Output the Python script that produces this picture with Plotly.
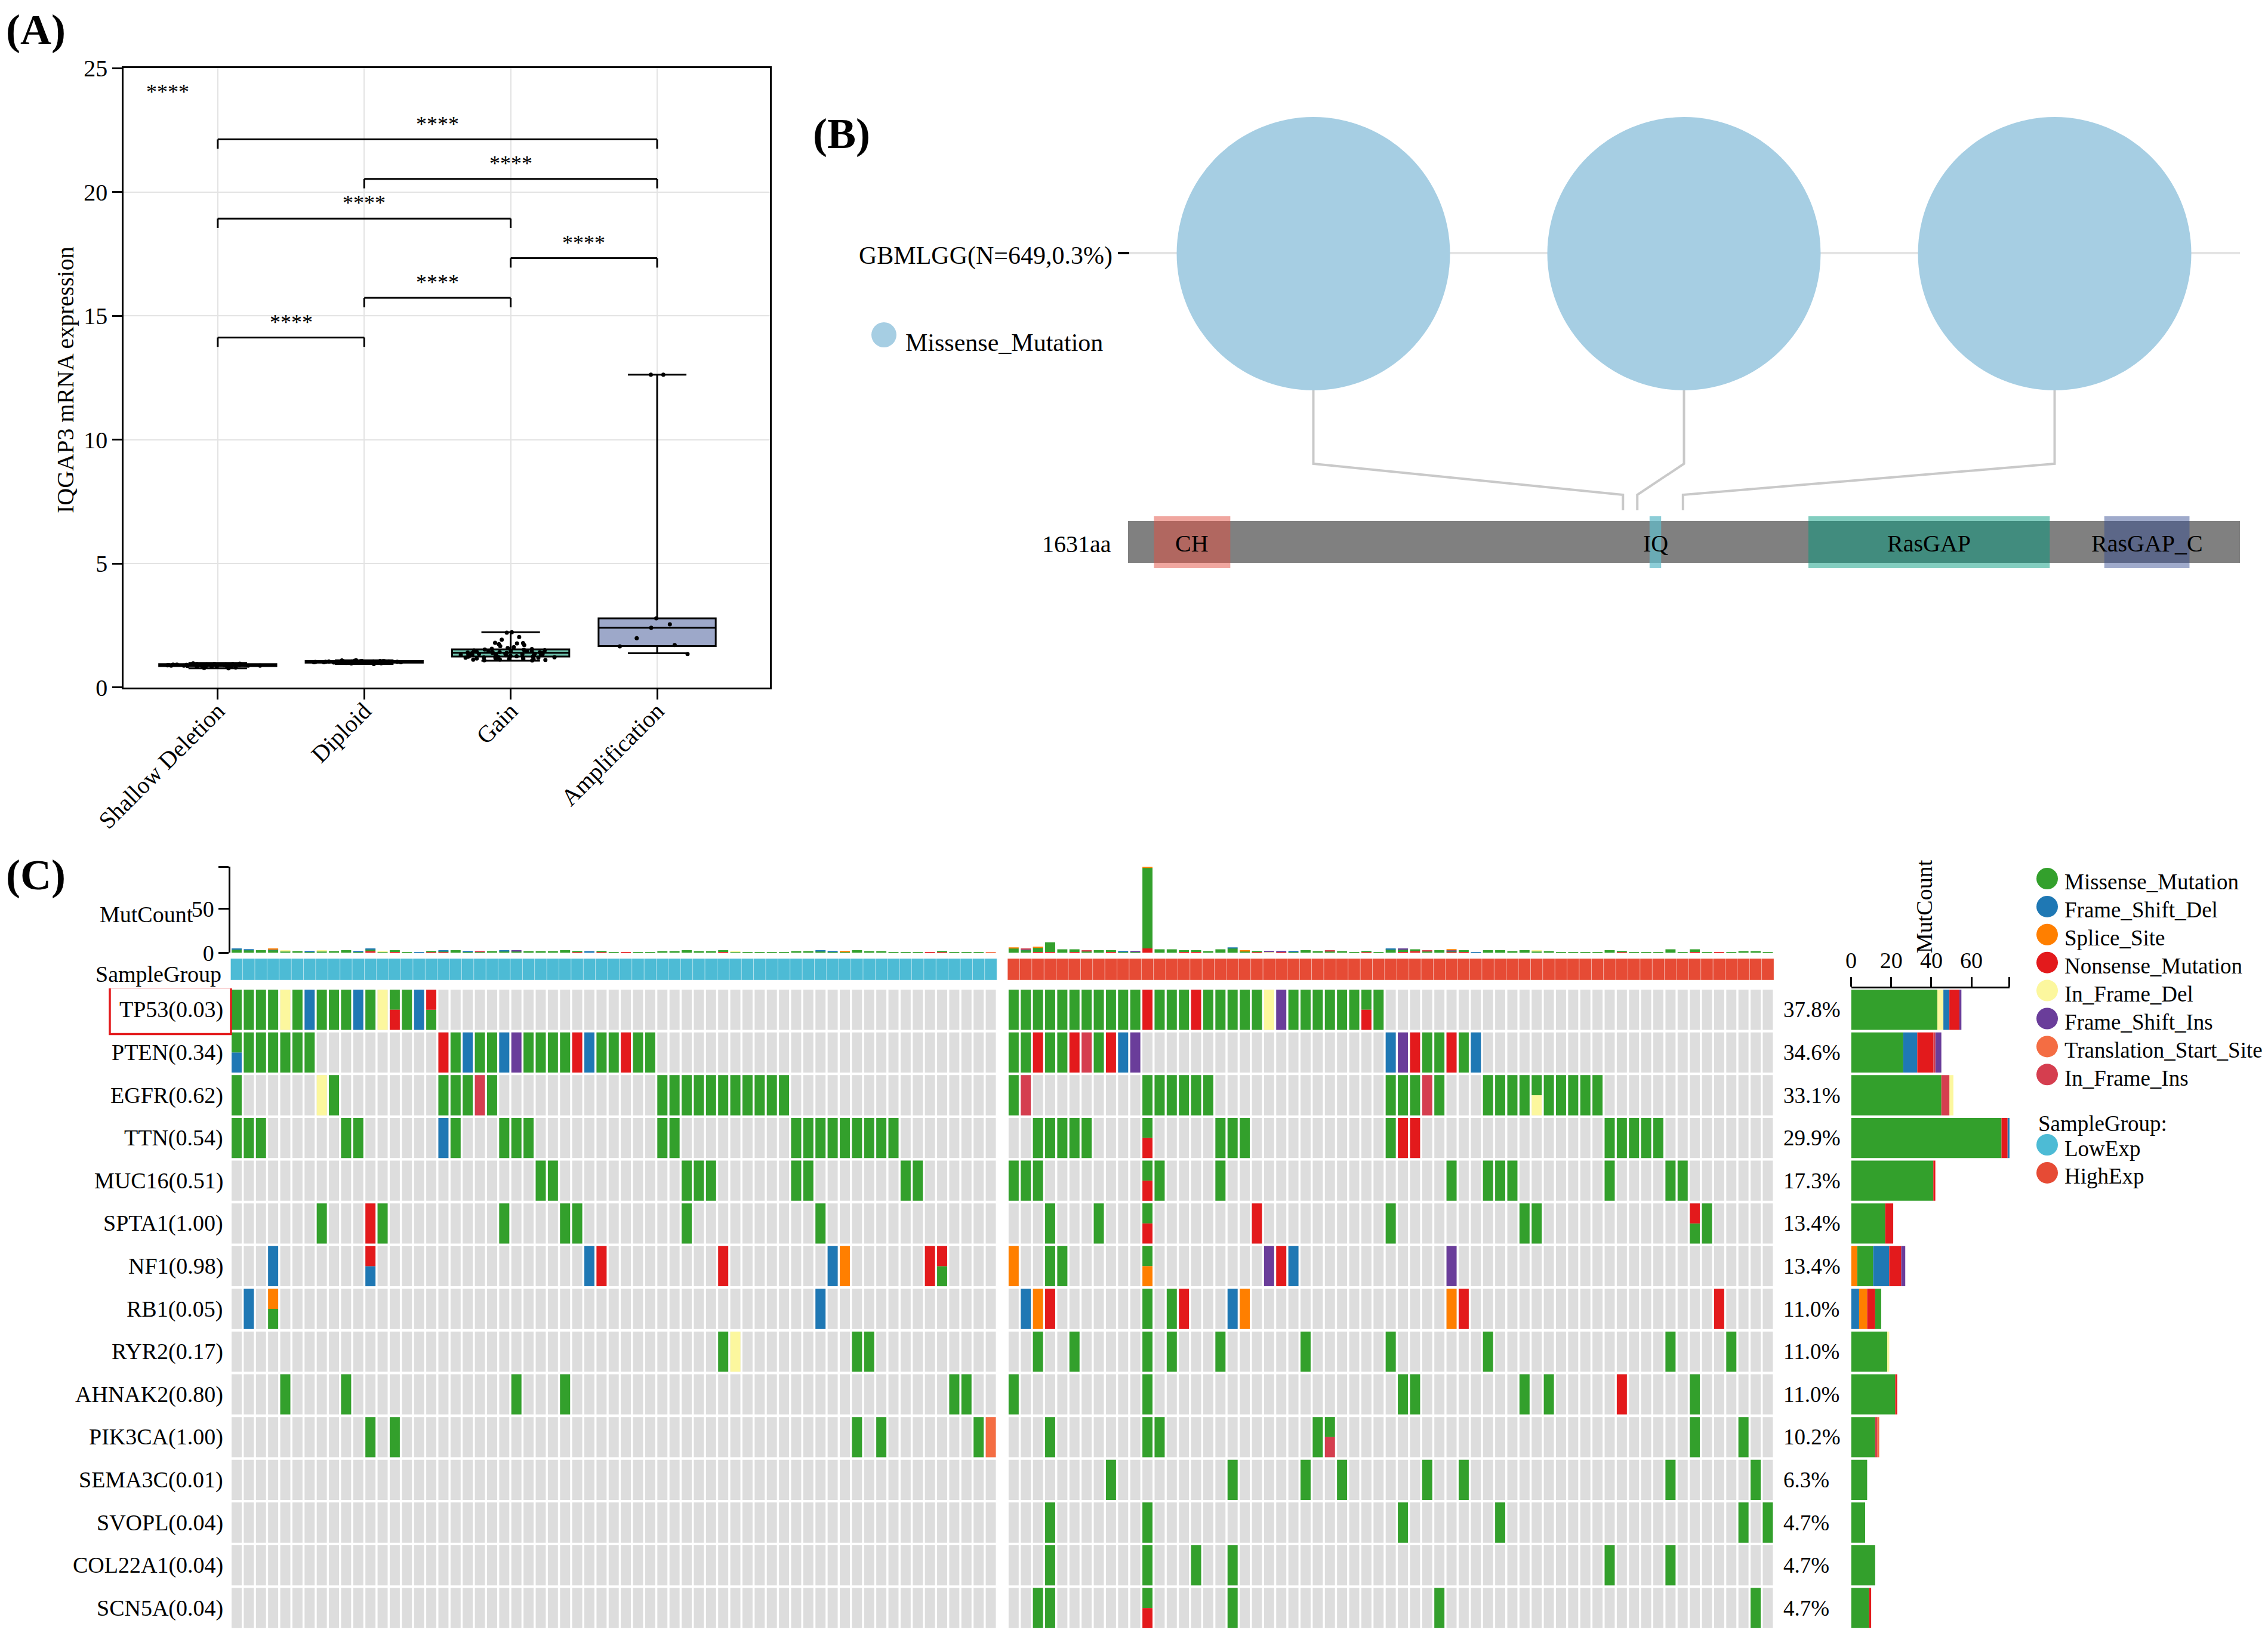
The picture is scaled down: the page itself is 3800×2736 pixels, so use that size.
import re
import plotly.graph_objects as go

W, H = 3800, 2736
SERIF = "Liberation Serif"
PAGE_OFFSET = 8  # page body margin in the rendered html


def fx(p):
    return (p - PAGE_OFFSET) / W


def fy(p):
    return 1 - (p - PAGE_OFFSET) / H


# ====================== Panel A data ======================
cn_groups = ["Shallow Deletion", "Diploid", "Gain", "Amplification"]
box_q1 = [0.86, 1.00, 1.25, 1.67]
box_median = [0.90, 1.03, 1.40, 2.41]
box_q3 = [0.94, 1.07, 1.54, 2.79]
box_lower = [0.77, 0.95, 1.08, 1.38]
box_upper = [0.99, 1.10, 2.23, 12.63]
box_fill = ["#E8867A", "#86B7DA", "#71C6B1", "#9DA8C9"]

expr_shallow = [0.77, 0.79, 0.81, 0.83, 0.84, 0.85, 0.86, 0.86, 0.87, 0.87, 0.88, 0.88,
                0.88, 0.89, 0.89, 0.89, 0.90, 0.90, 0.90, 0.90, 0.91, 0.91, 0.91, 0.92,
                0.92, 0.92, 0.93, 0.93, 0.94, 0.94, 0.95, 0.96, 0.97, 0.87, 0.90, 0.92,
                0.89, 0.91, 0.88, 0.86]
expr_diploid = [0.95, 0.97, 0.98, 0.99, 1.00, 1.00, 1.01, 1.01, 1.02, 1.02, 1.02, 1.03,
                1.03, 1.03, 1.03, 1.04, 1.04, 1.04, 1.05, 1.05, 1.05, 1.06, 1.06, 1.07,
                1.07, 1.08, 1.09, 1.10, 1.00, 1.02, 1.04, 1.06, 1.03, 1.01, 1.05, 1.03,
                1.02, 1.04, 1.06, 1.00, 1.03, 1.05, 1.02, 1.04, 1.01]
expr_gain = [2.23, 2.21, 2.04, 1.93, 1.80, 1.79, 1.78, 1.75, 1.71, 1.67, 1.63, 1.59,
             1.56, 1.55, 1.53, 1.52, 1.50, 1.49, 1.47, 1.46, 1.46, 1.44, 1.43, 1.42,
             1.41, 1.40, 1.39, 1.38, 1.38, 1.37, 1.36, 1.35, 1.34, 1.33, 1.33, 1.32,
             1.31, 1.30, 1.29, 1.29, 1.28, 1.27, 1.26, 1.25, 1.25, 1.24, 1.23, 1.22,
             1.21, 1.20, 1.20, 1.19, 1.18, 1.17, 1.16, 1.15, 1.15, 1.14, 1.13, 1.12,
             1.11, 1.10, 1.09, 1.36, 1.42, 1.28, 1.33, 1.47, 1.24, 1.31]
expr_amp = [2.79, 2.55, 2.41, 1.99, 1.71, 1.66, 1.35, 12.63, 12.63]

sig_pairs = [(0, 1), (1, 2), (2, 3), (0, 2), (1, 3), (0, 3)]
sig_labels = ["****", "****", "****", "****", "****", "****"]
overall_sig = "****"

# ====================== Panel B data ======================
protein_length = 1631
domain_names = ["CH", "IQ", "RasGAP", "RasGAP_C"]
domain_start = [38, 765, 998, 1432]
domain_end = [150, 782, 1352, 1557]
domain_colors = ["rgba(226,78,63,0.5)", "rgba(97,186,200,0.73)",
                 "rgba(0,153,125,0.49)", "rgba(51,74,145,0.47)"]
mutation_pos = [726, 747, 814]
mutation_class = ["Missense_Mutation", "Missense_Mutation", "Missense_Mutation"]
cohort_label = "GBMLGG(N=649,0.3%)"

# ====================== Panel C data ======================
genes = ["TP53", "PTEN", "EGFR", "TTN", "MUC16", "SPTA1", "NF1", "RB1", "RYR2",
         "AHNAK2", "PIK3CA", "SEMA3C", "SVOPL", "COL22A1", "SCN5A"]
gene_pvalues = ["0.03", "0.34", "0.62", "0.54", "0.51", "1.00", "0.98", "0.05", "0.17",
                "0.80", "1.00", "0.01", "0.04", "0.04", "0.04"]
gene_freq_labels = ["37.8%", "34.6%", "33.1%", "29.9%", "17.3%", "13.4%", "13.4%", "11.0%",
                    "11.0%", "11.0%", "10.2%", "6.3%", "4.7%", "4.7%", "4.7%"]
n_low = 63
n_high = 63
# tokens: sample index + type code(s); "a/b" = two mutations (top/bottom)
low_cells = [
    "0M 1M 2M 3M 4d 5M 6D 7M 8M 9M 10D 11M 12d 13M/N 14M 15D 16N/M",
    "0M/D 1M 2M 3M 4M 5M 6M 17N 18M 19D 20M 21M 22D 23I 24M 25M 26M 27M 28N 29D 30M 31M 32N 33M 34M",
    "0M 7d 8M 17M 18M 19M 20i 21M 35M 36M 37M 38M 39M 40M 41M 42M 43M 44M 45M",
    "0M 1M 2M 9M 10M 17D 18M 22M 23M 24M 35M 36M 46M 47M 48M 49M 50M 51M 52M 53M 54M",
    "25M 26M 37M 38M 39M 46M 47M 55M 56M",
    "7M 11N 12M 22M 27M 28M 37M 48M",
    "3D 11N/D 29D 30N 40N 49D 50S 57N 58N/M",
    "1D 3S/M 48D",
    "40M 41d 51M 52M",
    "4M 9M 23M 27M 59M 60M",
    "11M 13M 51M 53M 61M 62T",
    "",
    "",
    "",
    "",
]
high_cells = [
    "0M 1M 2M 3M 4M 5M 6M 7M 8M 9M 10M 11N 12M 13M 14M 15N 16M 17M 18M 19M 20M 21d 22I 23M 24M 25M 26M 27M 28M 29M/N 30M",
    "0M 1M 2N 3M 4M 5N 6i 7M 8N 9D 10I 31D 32I 33N 34M 35M 36N 37M 38D",
    "0M 1i 11M 12M 13M 14M 15M 16M 31M 32M 33M 34i 35M 39M 40M 41M 42M 43M/d 44M 45M 46M 47M 48M",
    "2M 3M 4M 5M 6M 11M/N 17M 18M 19M 31M 32N 33N 49M 50M 51M 52M 53M",
    "0M 1M 2M 11M/N 12M 17M 36M 39M 40M 41M 49M 54M 55M",
    "3M 7M 11M/N 20N 31M 42M 43M 56N/M 57M",
    "0S 3M 4M 11M/S 21I 22N 23D 36I",
    "1D 2S 3N 11M 13M 14N 18D 19S 36S 37N 58N",
    "2M 5M 11M 13M 17M 24M 31M 39M 54M 59M",
    "0M 11M 32M 33M 42M 44M 50N 56M",
    "3M 11M 12M 25M 26M/i 56M 60M",
    "8M 18M 24M 27M 34M 37M 54M 61M",
    "3M 11M 32M 40M 60M 62M",
    "3M 11M 15M 18M 49M 54M",
    "2M 3M 11M/N 18M 35M 61M",
]
# mutations in other genes
extra_mutcount_low = {}
extra_mutcount_high = {3: 2, 11: 80}
# per-gene totals in the right bar plot (segment order as drawn)
gene_bar_segments = [
    [("M", 43), ("d", 3), ("D", 3), ("N", 5), ("I", 1)],
    [("M", 26), ("D", 7), ("N", 8), ("i", 1), ("I", 3)],
    [("M", 45), ("i", 4), ("d", 2)],
    [("M", 75), ("N", 3), ("D", 1)],
    [("M", 41), ("N", 1)],
    [("M", 17), ("N", 4)],
    [("S", 3), ("M", 8), ("D", 8), ("N", 6), ("I", 2)],
    [("D", 4), ("S", 4), ("N", 4), ("M", 3)],
    [("M", 18), ("d", 1)],
    [("M", 22), ("N", 1)],
    [("M", 12), ("i", 1), ("T", 1)],
    [("M", 8)],
    [("M", 7)],
    [("M", 12)],
    [("M", 9), ("N", 1)],
]
mut_types = ["Missense_Mutation", "Frame_Shift_Del", "Splice_Site", "Nonsense_Mutation",
             "In_Frame_Del", "Frame_Shift_Ins", "Translation_Start_Site", "In_Frame_Ins"]
mut_codes = ["M", "D", "S", "N", "d", "I", "T", "i"]
mut_colors = ["#33A02C", "#1F78B4", "#FF7F00", "#E31A1C", "#FCF79E", "#6A3D9A",
              "#F46D43", "#D53E4F"]
mutcount_stack_order = ["N", "M", "D", "d", "I", "i", "T", "S"]
group_names = ["LowExp", "HighExp"]
group_colors = ["#4DBBD5", "#E64B35"]

# ====================== figure ======================
fig = go.Figure()
shapes = []
annos = []


def add_text(x, y, text, size, xanchor="center", yanchor="middle", xref="paper",
             yref="paper", angle=0, bold=False):
    annos.append(dict(x=x, y=y, xref=xref, yref=yref, text=("<b>%s</b>" % text) if bold else text,
                      showarrow=False, xanchor=xanchor, yanchor=yanchor, textangle=angle,
                      font=dict(family=SERIF, size=size, color="black")))


# ---------- Panel A ----------
point_sets = [expr_shallow, expr_diploid, expr_gain, expr_amp]
for i, g in enumerate(cn_groups):
    fig.add_trace(go.Box(x=[i], q1=[box_q1[i]], median=[box_median[i]], q3=[box_q3[i]],
                         lowerfence=[box_lower[i]], upperfence=[box_upper[i]],
                         fillcolor=box_fill[i], line=dict(color="black", width=3),
                         width=0.8, whiskerwidth=0.5, boxpoints=False,
                         xaxis="x", yaxis="y", hoverinfo="skip"))
for i, vals in enumerate(point_sets):
    fig.add_trace(go.Box(x=[i] * len(vals), y=vals, boxpoints="all", jitter=1.0, pointpos=0,
                         fillcolor="rgba(0,0,0,0)", line=dict(color="rgba(0,0,0,0)", width=0),
                         marker=dict(color="black", size=7), width=0.8,
                         xaxis="x", yaxis="y", hoverinfo="skip"))

BR_BASE, BR_STEP, BR_LEG, BR_TXT = 14.13, 1.6, 0.38, 0.62
for lvl, (a, b) in enumerate(sig_pairs):
    yb = BR_BASE + BR_STEP * lvl
    for (xa, ya, xb, yb2) in [(a, yb - BR_LEG, a, yb), (a, yb, b, yb), (b, yb, b, yb - BR_LEG)]:
        shapes.append(dict(type="line", xref="x", yref="y", x0=xa, y0=ya, x1=xb, y1=yb2,
                           line=dict(color="black", width=3)))
    add_text((a + b) / 2, yb + BR_TXT, sig_labels[lvl], 36, xref="x", yref="y")
add_text(-0.34, 24.05, overall_sig, 36, xref="x", yref="y")
add_text(fx(109), fy(637), "IQGAP3 mRNA expression", 40, angle=-90)
add_text(fx(8), fy(8), "(A)", 72, xanchor="left", yanchor="top", bold=True)

# ---------- Panel B ----------
B_CIRCLE_Y, B_RADIUS, B_KNEE1, B_KNEE2, B_END = 425, 229, 777, 829, 855
B_BAR_TOP, B_BAR_BOT, B_DOM_TOP, B_DOM_BOT, B_TRACK_Y = 873, 943, 865, 952, 424
n_mut = len(mutation_pos)
circle_x = [(k + 0.5) * protein_length / n_mut for k in range(n_mut)]

shapes.append(dict(type="line", xref="x2", yref="y2", x0=0, x1=protein_length,
                   y0=B_TRACK_Y, y1=B_TRACK_Y, layer="below",
                   line=dict(color="#E4E4E4", width=4)))
shapes.append(dict(type="line", xref="paper", yref="paper", x0=fx(1873), x1=fx(1892),
                   y0=fy(B_TRACK_Y), y1=fy(B_TRACK_Y), line=dict(color="black", width=4)))
for k in range(n_mut):
    fig.add_trace(go.Scatter(
        x=[circle_x[k], circle_x[k], mutation_pos[k], mutation_pos[k]],
        y=[B_CIRCLE_Y + B_RADIUS, B_KNEE1, B_KNEE2, B_END],
        mode="lines", line=dict(color="#C9C9C9", width=4),
        xaxis="x2", yaxis="y2", hoverinfo="skip"))
fig.add_trace(go.Scatter(x=circle_x, y=[B_CIRCLE_Y] * n_mut, mode="markers",
                         marker=dict(size=2 * B_RADIUS, color="#A6CEE3", line=dict(width=0)),
                         xaxis="x2", yaxis="y2", hoverinfo="skip"))
shapes.append(dict(type="rect", xref="x2", yref="y2", x0=0, x1=protein_length,
                   y0=B_BAR_TOP, y1=B_BAR_BOT, fillcolor="#808080", line=dict(width=0)))
for k, name in enumerate(domain_names):
    shapes.append(dict(type="rect", xref="x2", yref="y2", x0=domain_start[k], x1=domain_end[k],
                       y0=B_DOM_TOP, y1=B_DOM_BOT, fillcolor=domain_colors[k],
                       line=dict(width=0)))
    add_text((domain_start[k] + domain_end[k]) / 2, 911, name, 40, xref="x2", yref="y2")
add_text(fx(1864), fy(911), "%daa" % protein_length, 40, xanchor="right")
add_text(fx(1866), fy(B_TRACK_Y + 4), cohort_label, 42, xanchor="right")
shapes.append(dict(type="circle", xref="paper", yref="paper", x0=fx(1460), x1=fx(1502),
                   y0=fy(540), y1=fy(582), fillcolor="#A6CEE3", line=dict(width=0)))
add_text(fx(1515), fy(574), mutation_class[0], 42, xanchor="left")
add_text(fx(1360), fy(182), "(B)", 72, xanchor="left", yanchor="top", bold=True)

# ---------- Panel C ----------
GROUP_GAP, CELL_W, ROW_PAD = 0.88, 0.83, 0.03
row_h = 1 - 2 * ROW_PAD


def parse_row(text):
    cells = {}
    for tok in text.split():
        m = re.match(r"(\d+)(\S+)", tok)
        cells[int(m.group(1))] = m.group(2).split("/")
    return cells


groups = [
    ([j for j in range(n_low)], low_cells, extra_mutcount_low),
    ([n_low + GROUP_GAP + j for j in range(n_high)], high_cells, extra_mutcount_high),
]

grey_x, grey_b = [], []
cell_x = {c: [] for c in mut_codes}
cell_b = {c: [] for c in mut_codes}
cell_h = {c: [] for c in mut_codes}
sample_x, sample_counts, sample_group = [], [], []

for gi, (xs, rows, extra) in enumerate(groups):
    parsed = [parse_row(r) for r in rows]
    for j, xpos in enumerate(xs):
        counts = {c: 0 for c in mut_codes}
        for i in range(len(genes)):
            grey_x.append(xpos)
            grey_b.append(i + ROW_PAD)
            codes = parsed[i].get(j)
            if codes:
                h = row_h / len(codes)
                for k, c in enumerate(codes):
                    cell_x[c].append(xpos)
                    cell_b[c].append(i + ROW_PAD + k * h)
                    cell_h[c].append(h)
                    counts[c] += 1
        counts["M"] += extra.get(j, 0)
        sample_x.append(xpos)
        sample_counts.append(counts)
        sample_group.append(gi)

fig.add_trace(go.Bar(x=grey_x, y=[row_h] * len(grey_x), base=grey_b, width=CELL_W,
                     marker=dict(color="#DDDDDD", line=dict(width=0)),
                     xaxis="x3", yaxis="y3", hoverinfo="skip"))
for c, col in zip(mut_codes, mut_colors):
    if cell_x[c]:
        fig.add_trace(go.Bar(x=cell_x[c], y=cell_h[c], base=cell_b[c], width=CELL_W,
                             marker=dict(color=col, line=dict(width=0)),
                             xaxis="x3", yaxis="y3", hoverinfo="skip"))

# MutCount bars (stacked)
code_color = dict(zip(mut_codes, mut_colors))
totals = [sum(cn.values()) for cn in sample_counts]
cum = [0] * len(sample_x)
for c in mutcount_stack_order:
    xs_, ys_, bs_ = [], [], []
    for s, cn in enumerate(sample_counts):
        if cn[c] > 0:
            xs_.append(sample_x[s])
            ys_.append(cn[c])
            bs_.append(cum[s])
            cum[s] += cn[c]
    if xs_:
        fig.add_trace(go.Bar(x=xs_, y=ys_, base=bs_, width=CELL_W,
                             marker=dict(color=code_color[c], line=dict(width=0)),
                             xaxis="x3", yaxis="y4", hoverinfo="skip"))

# Sample group bar
for gi in range(len(group_names)):
    xs_ = [sample_x[s] for s in range(len(sample_x)) if sample_group[s] == gi]
    fig.add_trace(go.Bar(x=xs_, y=[1] * len(xs_), base=[0] * len(xs_), width=1.0,
                         marker=dict(color=group_colors[gi],
                                     line=dict(color="rgba(255,255,255,0.35)", width=1)),
                         xaxis="x3", yaxis="y5", hoverinfo="skip"))

# right-side bar plot
gene_totals = []
seg = {c: ([], [], []) for c in mut_codes}
for i, segs in enumerate(gene_bar_segments):
    run = 0
    for c, n in segs:
        seg[c][0].append(i + 0.5)
        seg[c][1].append(n)
        seg[c][2].append(run)
        run += n
    gene_totals.append(run)
for c in mut_codes:
    if seg[c][0]:
        fig.add_trace(go.Bar(y=seg[c][0], x=seg[c][1], base=seg[c][2], orientation="h",
                             width=row_h, marker=dict(color=code_color[c], line=dict(width=0)),
                             xaxis="x6", yaxis="y6", hoverinfo="skip"))
bar_max = max(gene_totals)

for i, g in enumerate(genes):
    add_text(fx(376), i + 0.5, "%s(%s)" % (g, gene_pvalues[i]), 38, xanchor="right", yref="y3")
    add_text(fx(2986), i + 0.5, gene_freq_labels[i], 37, xanchor="left", yref="y3")
shapes.append(dict(type="rect", xref="paper", yref="y3", x0=fx(184), x1=fx(387),
                   y0=-0.02, y1=1.07, line=dict(color="#E31A1C", width=3.5)))
add_text(fx(326), fy(1532), "MutCount", 38, xanchor="right")
add_text(fx(373), fy(1632), "SampleGroup", 38, xanchor="right")
add_text(fx(3224), fy(1519), "MutCount", 38, angle=-90)
add_text(fx(8), fy(1424), "(C)", 72, xanchor="left", yanchor="top", bold=True)

# legend
LEG_X, LEG_Y0, LEG_DY, LEG_R = 3430, 1472, 46.9, 18
for k, t in enumerate(mut_types):
    cy = LEG_Y0 + k * LEG_DY
    shapes.append(dict(type="circle", xref="paper", yref="paper",
                       x0=fx(LEG_X - LEG_R), x1=fx(LEG_X + LEG_R),
                       y0=fy(cy - LEG_R), y1=fy(cy + LEG_R),
                       fillcolor=mut_colors[k], line=dict(width=0)))
    add_text(fx(LEG_X + 27), fy(cy + 6), t, 37, xanchor="left")
add_text(fx(3413), fy(1882), "SampleGroup:", 37, xanchor="left")
for k, gname in enumerate(group_names):
    cy = 1918 + k * LEG_DY
    shapes.append(dict(type="circle", xref="paper", yref="paper",
                       x0=fx(LEG_X - LEG_R), x1=fx(LEG_X + LEG_R),
                       y0=fy(cy - LEG_R), y1=fy(cy + LEG_R),
                       fillcolor=group_colors[k], line=dict(width=0)))
    add_text(fx(LEG_X + 27), fy(cy + 6), gname, 37, xanchor="left")

# ====================== layout ======================
C_LEFT, C_PITCH = 386.3, 20.38
c_range = [-0.5, n_low + GROUP_GAP + n_high - 1 + 0.5]
c_right = C_LEFT + (c_range[1] - c_range[0]) * C_PITCH
BAR_PX_PER_UNIT = 3.36
axis_common = dict(showline=True, linecolor="black", linewidth=3, ticks="outside",
                   tickwidth=3, tickcolor="black", zeroline=False, automargin=False,
                   tickfont=dict(family=SERIF, size=40, color="black"))

fig.update_layout(
    width=W, height=H, autosize=False,
    margin=dict(l=0, r=0, t=0, b=0, pad=0, autoexpand=False),
    paper_bgcolor="white", plot_bgcolor="white", showlegend=False,
    boxmode="overlay", barmode="overlay",
    font=dict(family=SERIF, color="black"),
    xaxis=dict(domain=[fx(207.3), fx(1290)], range=[-0.642, 3.77], anchor="y",
               tickvals=list(range(len(cn_groups))), ticktext=cn_groups, tickangle=-45,
               ticklen=17, ticklabelstandoff=-20, mirror=True, showgrid=True,
               gridcolor="#E3E3E3", gridwidth=2, **axis_common),
    yaxis=dict(domain=[fy(1151.8), fy(114.3)], range=[0, 25], dtick=5, anchor="x",
               ticklen=16, mirror=True, showgrid=True, gridcolor="#E3E3E3", gridwidth=2,
               **axis_common),
    xaxis2=dict(domain=[fx(1890), fx(3753)], range=[0, protein_length], anchor="y2",
                visible=False, automargin=False),
    yaxis2=dict(domain=[fy(980), fy(100)], range=[980, 100], anchor="x2", visible=False,
                automargin=False),
    xaxis3=dict(domain=[fx(C_LEFT), fx(c_right)], range=c_range, anchor="y3", visible=False,
                automargin=False),
    yaxis3=dict(domain=[fy(2730), fy(1656)], range=[len(genes), 0], anchor="x3",
                visible=False, automargin=False),
    yaxis4=dict(domain=[fy(1596.4), fy(1596.4 - 1.472 * max(totals))],
                range=[0, max(totals)], anchor="x3",
                tickvals=[0, 50, max(totals)], ticktext=["0", "50", ""], ticklen=17,
                showgrid=False, showline=True, linecolor="black", linewidth=3,
                ticks="outside", tickwidth=3, tickcolor="black", zeroline=False,
                automargin=False, tickfont=dict(family=SERIF, size=38, color="black")),
    yaxis5=dict(domain=[fy(1642), fy(1606)], range=[0, 1], anchor="x3", visible=False,
                automargin=False),
    xaxis6=dict(domain=[fx(3101.5), fx(3101.5 + BAR_PX_PER_UNIT * bar_max)],
                range=[0, bar_max], anchor="y6", side="top",
                tickvals=[0, 20, 40, 60, bar_max], ticktext=["0", "20", "40", "60", ""],
                ticklen=16, showgrid=False, showline=True, linecolor="black", linewidth=3,
                ticks="outside", tickwidth=3, tickcolor="black", zeroline=False,
                automargin=False, tickfont=dict(family=SERIF, size=38, color="black")),
    yaxis6=dict(domain=[fy(2730), fy(1656)], range=[len(genes), 0], anchor="x6",
                visible=False, automargin=False),
    shapes=shapes,
    annotations=annos,
)

fig.write_html("out.html")
